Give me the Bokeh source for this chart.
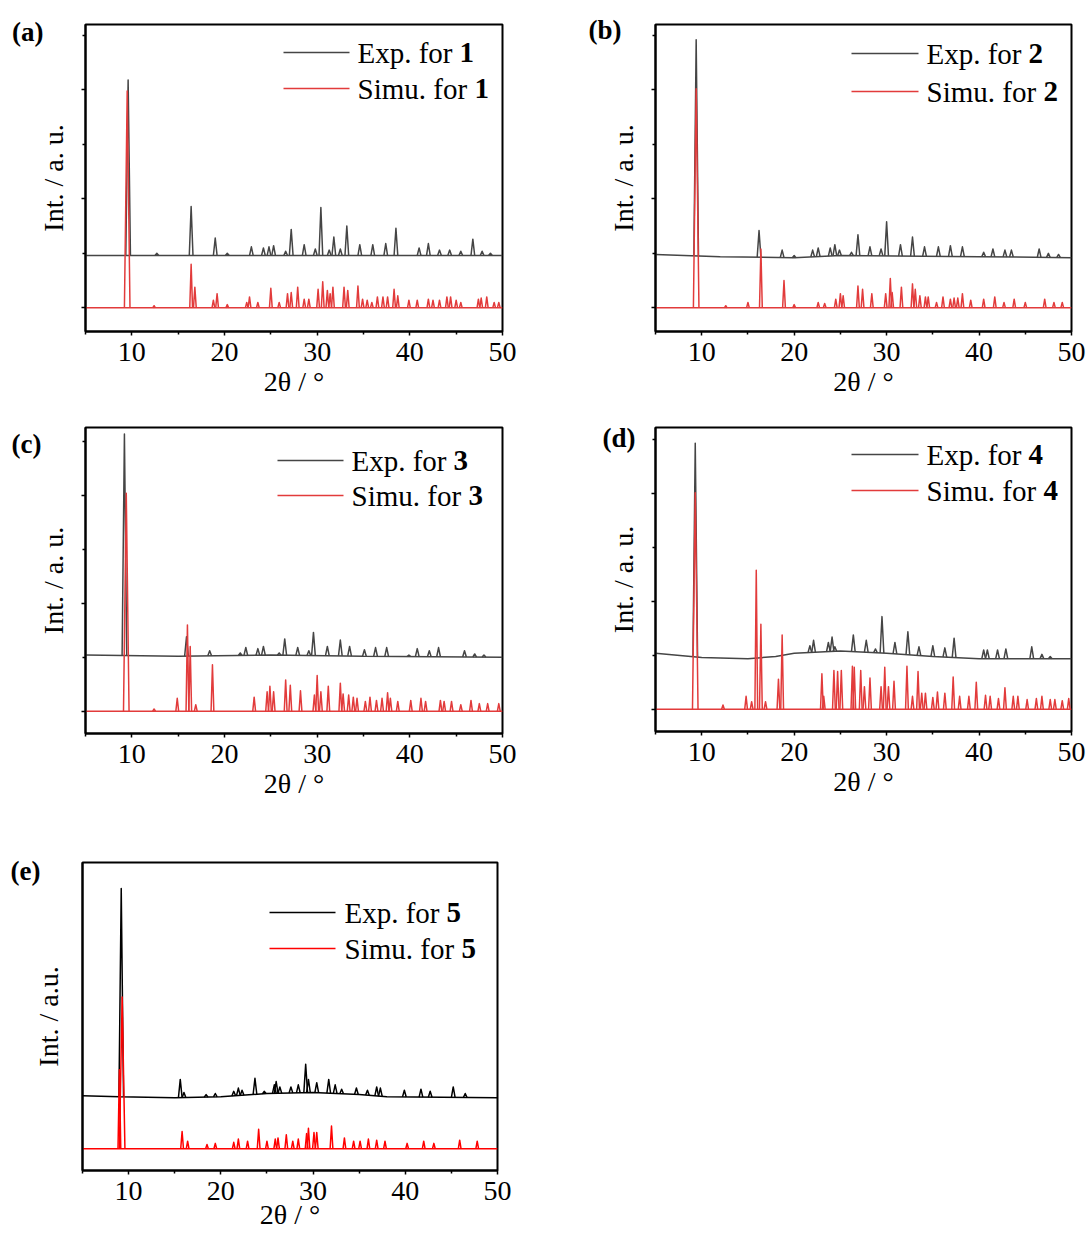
import numpy as np
from bokeh.plotting import figure
from bokeh.models import Range1d, FixedTicker, Label, LinearAxis
from bokeh.layouts import column, row
from bokeh.embed import file_html
from bokeh.resources import INLINE

# ---------------- data ----------------
X_TICKS = [10, 20, 30, 40, 50]
X_MINOR = [5, 15, 25, 35, 45]
Y_TICKS = [0, 1, 2]
Y_MINOR = [0.5, 1.5, 2.5]

# panel (a)
a_exp_pos = [9.6, 12.7, 16.4, 19.0, 20.3, 22.9, 24.2, 24.8, 25.3, 26.6, 27.2, 28.6, 29.8, 30.4, 31.3,
             31.8, 32.5, 33.2, 34.6, 36.0, 37.4, 38.5, 41.0, 42.0, 43.2, 44.3, 45.5, 46.8, 47.8, 48.7]
a_exp_top = [2.09, 0.50, 0.93, 0.64, 0.50, 0.56, 0.55, 0.56, 0.57, 0.52, 0.72, 0.58, 0.54, 0.92, 0.53,
             0.65, 0.54, 0.75, 0.58, 0.58, 0.59, 0.73, 0.55, 0.59, 0.53, 0.53, 0.52, 0.63, 0.52, 0.50]
a_exp_base_x = [5, 50]
a_exp_base_y = [0.48, 0.48]
a_sim_pos = [9.5, 12.4, 16.4, 16.8, 18.8, 19.2, 20.3, 22.4, 22.7, 23.6, 25.0, 25.9, 26.8, 27.2, 27.9,
             28.6, 29.1, 30.1, 30.6, 31.1, 31.4, 31.7, 32.9, 33.3, 34.4, 34.9, 35.4, 35.9, 36.5, 37.1,
             37.6, 38.3, 38.7, 39.9, 40.8, 42.0, 42.5, 43.2, 44.0, 44.4, 45.0, 45.5, 47.4, 47.7, 48.3,
             49.1, 49.6]
a_sim_top = [1.99, 0.02, 0.40, 0.19, 0.07, 0.13, 0.03, 0.05, 0.10, 0.05, 0.18, 0.05, 0.13, 0.14, 0.19,
             0.08, 0.08, 0.17, 0.24, 0.16, 0.13, 0.19, 0.19, 0.16, 0.20, 0.08, 0.07, 0.05, 0.10, 0.10,
             0.10, 0.17, 0.11, 0.07, 0.07, 0.08, 0.07, 0.07, 0.10, 0.10, 0.07, 0.05, 0.08, 0.09, 0.10,
             0.05, 0.05]

# panel (b)
b_exp_pos = [9.4, 16.2, 18.7, 20.0, 22.0, 22.6, 23.9, 24.4, 24.9, 26.2, 26.9, 28.2, 29.4, 30.0, 31.5,
             32.8, 34.1, 35.6, 36.9, 38.2, 40.5, 41.5, 42.8, 43.5, 46.5, 47.5, 48.6]
b_exp_top = [2.46, 0.71, 0.53, 0.48, 0.53, 0.55, 0.55, 0.58, 0.53, 0.51, 0.67, 0.56, 0.54, 0.79, 0.58,
             0.65, 0.56, 0.56, 0.57, 0.56, 0.51, 0.54, 0.53, 0.53, 0.54, 0.50, 0.49]
b_exp_base_x = [5, 12, 20, 25, 40, 50]
b_exp_base_y = [0.49, 0.47, 0.46, 0.48, 0.47, 0.46]
b_sim_pos = [9.4, 12.6, 15.0, 16.4, 18.9, 20.0, 22.6, 23.3, 24.5, 25.0, 25.3, 26.9, 27.4, 28.4, 29.9,
             30.4, 30.6, 31.6, 32.8, 33.1, 33.6, 34.2, 34.5, 35.4, 36.1, 36.9, 37.3, 37.7, 38.2, 39.1,
             40.5, 41.7, 42.7, 43.8, 45.0, 47.1, 48.1, 49.0]
b_sim_top = [2.01, 0.02, 0.05, 0.54, 0.25, 0.03, 0.05, 0.04, 0.08, 0.13, 0.11, 0.20, 0.17, 0.13, 0.13,
             0.27, 0.14, 0.19, 0.22, 0.17, 0.11, 0.10, 0.10, 0.05, 0.10, 0.08, 0.09, 0.09, 0.13, 0.07,
             0.08, 0.10, 0.05, 0.08, 0.05, 0.08, 0.05, 0.05]

# panel (c)
c_exp_pos = [9.2, 15.9, 18.4, 21.7, 22.3, 23.6, 24.2, 25.9, 26.5, 27.9, 29.1, 29.6, 31.1, 32.5, 33.5,
             35.1, 36.3, 37.5, 39.9, 40.8, 42.1, 43.1, 45.9, 47.0, 48.0]
c_exp_top = [2.57, 0.69, 0.56, 0.54, 0.59, 0.58, 0.60, 0.54, 0.67, 0.59, 0.56, 0.73, 0.60, 0.66, 0.60,
             0.57, 0.59, 0.59, 0.52, 0.58, 0.56, 0.59, 0.56, 0.53, 0.52]
c_exp_base_x = [5, 15, 25, 35, 50]
c_exp_base_y = [0.52, 0.51, 0.52, 0.51, 0.50]
c_sim_pos = [9.4, 12.4, 14.9, 16.0, 16.3, 16.9, 18.7, 23.2, 24.6, 24.9, 25.3, 26.6, 27.1, 28.2, 29.7,
             30.0, 30.4, 31.2, 32.5, 32.8, 33.4, 33.9, 34.3, 35.2, 35.7, 36.4, 37.0, 37.6, 37.9, 38.7,
             40.1, 41.2, 41.7, 43.3, 43.7, 44.5, 45.5, 46.6, 47.5, 48.4, 49.6]
c_sim_top = [2.02, 0.02, 0.12, 0.80, 0.60, 0.06, 0.43, 0.13, 0.18, 0.23, 0.18, 0.29, 0.24, 0.19, 0.15,
             0.33, 0.18, 0.23, 0.26, 0.16, 0.15, 0.13, 0.12, 0.09, 0.13, 0.10, 0.12, 0.17, 0.12, 0.09,
             0.10, 0.12, 0.09, 0.10, 0.09, 0.09, 0.06, 0.10, 0.07, 0.07, 0.07]

# panel (d)
d_exp_pos = [9.3, 21.7, 22.1, 23.7, 24.1, 24.4, 26.4, 27.8, 28.8, 29.5, 30.9, 32.3, 33.5, 35.0, 36.3,
             37.3, 40.5, 40.9, 42.0, 42.9, 45.7, 46.8, 47.7]
d_exp_top = [2.47, 0.59, 0.64, 0.62, 0.67, 0.58, 0.69, 0.64, 0.56, 0.86, 0.62, 0.72, 0.58, 0.59, 0.57,
             0.66, 0.55, 0.55, 0.55, 0.56, 0.58, 0.51, 0.49]
d_exp_base_x = [5, 10, 15, 18, 20, 25, 30, 35, 40, 50]
d_exp_base_y = [0.52, 0.48, 0.47, 0.49, 0.52, 0.54, 0.52, 0.49, 0.47, 0.47]
d_sim_pos = [9.3, 12.3, 14.8, 15.4, 15.9, 16.4, 16.9, 18.3, 18.7, 23.0, 23.2, 24.3, 24.7, 25.1, 26.3,
             26.5, 27.2, 27.6, 28.2, 29.4, 29.8, 30.2, 30.8, 32.2, 32.8, 33.4, 33.8, 34.2, 35.0, 35.5,
             36.3, 37.2, 37.9, 38.9, 39.7, 40.7, 41.2, 42.1, 42.8, 43.7, 44.2, 45.2, 46.2, 46.8, 47.7,
             48.2, 49.0, 49.7]
d_sim_top = [2.01, 0.04, 0.12, 0.07, 1.29, 0.79, 0.07, 0.28, 0.69, 0.33, 0.12, 0.36, 0.35, 0.36, 0.40,
             0.39, 0.36, 0.21, 0.29, 0.21, 0.39, 0.21, 0.26, 0.40, 0.12, 0.35, 0.15, 0.15, 0.11, 0.16,
             0.15, 0.30, 0.12, 0.12, 0.25, 0.13, 0.12, 0.10, 0.20, 0.12, 0.12, 0.09, 0.10, 0.12, 0.09,
             0.09, 0.08, 0.10]

# panel (e)
e_exp_pos = [9.2, 15.6, 16.0, 18.4, 19.4, 21.4, 21.9, 22.3, 23.7, 24.7, 25.8, 26.0, 26.4, 27.6, 28.4,
             29.2, 29.5, 30.4, 31.7, 32.4, 33.1, 34.7, 35.9, 36.9, 37.3, 39.9, 41.7, 42.7, 45.2, 46.5]
e_exp_top = [2.40, 0.64, 0.52, 0.50, 0.51, 0.53, 0.56, 0.54, 0.65, 0.53, 0.59, 0.62, 0.57, 0.57, 0.59,
             0.78, 0.64, 0.61, 0.64, 0.59, 0.55, 0.56, 0.54, 0.57, 0.56, 0.54, 0.55, 0.53, 0.57, 0.51]
e_exp_base_x = [5, 9, 15, 20, 25, 30, 35, 38, 50]
e_exp_base_y = [0.49, 0.48, 0.47, 0.48, 0.51, 0.52, 0.50, 0.48, 0.47]
e_sim_pos = [9.0, 9.3, 15.8, 16.4, 18.5, 19.4, 21.4, 21.9, 22.9, 24.1, 25.0, 25.9, 26.2, 27.1, 27.8,
             28.4, 29.3, 29.5, 30.1, 30.4, 32.0, 33.4, 34.4, 35.1, 36.0, 36.9, 37.8, 40.2, 42.0, 43.1,
             45.9, 47.8]
e_sim_top = [0.73, 1.40, 0.16, 0.07, 0.04, 0.05, 0.06, 0.09, 0.07, 0.18, 0.07, 0.09, 0.10, 0.13, 0.07,
             0.09, 0.14, 0.19, 0.15, 0.15, 0.21, 0.10, 0.07, 0.07, 0.09, 0.08, 0.07, 0.05, 0.07, 0.05,
             0.08, 0.07]

SIM_BASE_X = [5, 50]
SIM_BASE_Y = [0.0, 0.0]

# ---------------- styling / layout ----------------
FONT = "Liberation Serif"
GRAY = "#454545"
RED = "#e23b3b"

panels = [
    dict(frame=(85, 502, 24, 331), yr=(-0.217, 2.60), borders=(85, 20, 24, 79),
         letter="(a)", letter_y=31, letter_off=-9, leg=(283, 349, 52, 88, 357), num="1",
         exp=(a_exp_pos, a_exp_top, a_exp_base_x, a_exp_base_y),
         sim=(a_sim_pos, a_sim_top), colors=(GRAY, RED), yticks=True,
         ylabel="Int. / a. u.", xstand=(7, 2)),
    dict(frame=(655, 1071, 24, 331), yr=(-0.217, 2.60), borders=(133, 20, 24, 79),
         letter="(b)", letter_y=29, letter_off=-17, leg=(851, 918, 53, 91, 926), num="2",
         exp=(b_exp_pos, b_exp_top, b_exp_base_x, b_exp_base_y),
         sim=(b_sim_pos, b_sim_top), colors=(GRAY, RED), yticks=True,
         ylabel="Int. / a. u.", xstand=(7, 2)),
    dict(frame=(85, 502, 425, 731), yr=(-0.207, 2.63), borders=(85, 20, 15, 119),
         letter="(c)", letter_y=441, letter_off=-7, leg=(277, 343, 458, 493, 351), num="3",
         exp=(c_exp_pos, c_exp_top, c_exp_base_x, c_exp_base_y),
         sim=(c_sim_pos, c_sim_top), colors=(GRAY, RED), yticks=True,
         ylabel="Int. / a. u.", xstand=(7, 2)),
    dict(frame=(655, 1071, 427, 731), yr=(-0.206, 2.615), borders=(133, 20, 17, 119),
         letter="(d)", letter_y=437, letter_off=-31, leg=(851, 918, 454, 490, 926), num="4",
         exp=(d_exp_pos, d_exp_top, d_exp_base_x, d_exp_base_y),
         sim=(d_sim_pos, d_sim_top), colors=(GRAY, RED), yticks=True,
         ylabel="Int. / a. u.", xstand=(7, 2)),
    dict(frame=(82, 497, 862, 1170), yr=(-0.20, 2.64), borders=(82, 20, 12, 63),
         letter="(e)", letter_y=870, letter_off=-11, leg=(269, 335, 912, 948, 344), num="5",
         exp=(e_exp_pos, e_exp_top, e_exp_base_x, e_exp_base_y),
         sim=(e_sim_pos, e_sim_top), colors=("#000000", "#ff0000"), yticks=False,
         ylabel="Int. / a.u.", xstand=(7, -4)),
]


def to_data(cfg, px, py):
    fl, fr, ft, fb = cfg["frame"]
    y0, y1 = cfg["yr"]
    return 5 + (px - fl) / (fr - fl) * 45.0, y1 - (py - ft) / (fb - ft) * (y1 - y0)


def peak_lines(pos, top, bx, by, w, w_main):
    imax = int(np.argmax(top))
    xs, ys = [], []
    for i, (p, t) in enumerate(zip(pos, top)):
        hw = w_main if i == imax else w
        xl, xr = p - hw, p + hw
        xs.append([xl, p, xr])
        ys.append([float(np.interp(xl, bx, by)), t, float(np.interp(xr, bx, by))])
    return xs, ys


def add_label(p, cfg, px, py, text, size="28px", bold=False):
    x, y = to_data(cfg, px, py)
    p.add_layout(Label(x=x, y=y, text=text, text_font=FONT, text_font_size=size,
                       text_font_style="bold" if bold else "normal", text_color="black",
                       text_align="left", text_baseline="alphabetic"))


def make_panel(cfg):
    fl, fr, ft, fb = cfg["frame"]
    y0, y1 = cfg["yr"]
    bl, br, bt, bb = cfg["borders"]
    p = figure(frame_width=fr - fl, frame_height=fb - ft,
               min_border_left=bl, min_border_right=br, min_border_top=bt, min_border_bottom=bb,
               x_range=Range1d(5, 50), y_range=Range1d(y0, y1),
               output_backend="svg", toolbar_location=None,
               background_fill_color="white", border_fill_color="white")
    p.xgrid.visible = False
    p.ygrid.visible = False
    p.outline_line_color = "black"
    p.outline_line_width = 2
    p.outline_line_alpha = 1.0

    s_lab, s_title = cfg["xstand"]
    xa = p.xaxis[0]
    xa.ticker = FixedTicker(ticks=X_TICKS, minor_ticks=X_MINOR)
    xa.axis_line_width = 2
    xa.major_tick_out = 4
    xa.major_tick_in = 0
    xa.minor_tick_out = 3
    xa.minor_tick_in = 0
    xa.major_tick_line_width = 1.5
    xa.minor_tick_line_width = 1.5
    xa.major_label_text_font = FONT
    xa.major_label_text_font_size = "28px"
    xa.major_label_text_color = "black"
    xa.major_label_standoff = s_lab
    xa.axis_label = "2\u03b8 / \u00b0"
    xa.axis_label_text_font = FONT
    xa.axis_label_text_font_size = "28px"
    xa.axis_label_text_font_style = "normal"
    xa.axis_label_text_color = "black"
    xa.axis_label_standoff = s_title

    ya = p.yaxis[0]
    ya.ticker = FixedTicker(ticks=Y_TICKS, minor_ticks=Y_MINOR)
    ya.axis_line_width = 2
    ya.major_label_overrides = {0: "", 1: "", 2: ""}
    ya.major_label_standoff = 0
    ya.major_tick_in = 0
    ya.minor_tick_in = 0
    ya.major_tick_line_width = 1.5
    ya.minor_tick_line_width = 1.5
    ya.axis_label = cfg["ylabel"]
    ya.axis_label_text_font = FONT
    ya.axis_label_text_font_size = "28px"
    ya.axis_label_text_font_style = "normal"
    ya.axis_label_text_color = "black"
    if cfg["yticks"]:
        ya.major_tick_out = 4
        ya.minor_tick_out = 3
        ya.axis_label_standoff = 13
    else:
        ya.major_tick_out = 0
        ya.minor_tick_out = 0
        ya.axis_label_standoff = 19

    # panel letter as a label-only axis placed left of the y axis
    _, ly_val = to_data(cfg, fl, cfg["letter_y"])
    la = LinearAxis(ticker=FixedTicker(ticks=[ly_val], minor_ticks=[]),
                    major_label_overrides={ly_val: cfg["letter"]},
                    major_label_text_font=FONT, major_label_text_font_size="27px",
                    major_label_text_font_style="bold", major_label_text_color="black",
                    major_label_standoff=cfg["letter_off"],
                    axis_line_color=None, major_tick_line_color=None,
                    minor_tick_line_color=None, major_tick_out=0, major_tick_in=0)
    p.add_layout(la, "left")

    exp_color, sim_color = cfg["colors"]
    # experimental pattern
    epos, etop, ebx, eby = cfg["exp"]
    p.line(ebx, eby, line_color=exp_color, line_width=1.5)
    xs, ys = peak_lines(epos, etop, ebx, eby, 0.2, 0.25)
    p.multi_line(xs, ys, line_color=exp_color, line_width=1.5, line_join="round")
    # simulated pattern
    spos, stop = cfg["sim"]
    p.line(SIM_BASE_X, SIM_BASE_Y, line_color=sim_color, line_width=1.5)
    xs, ys = peak_lines(spos, stop, SIM_BASE_X, SIM_BASE_Y, 0.15, 0.3)
    p.multi_line(xs, ys, line_color=sim_color, line_width=1.5, line_join="round")

    # legend
    lx0, lx1, ly_exp, ly_sim, tx = cfg["leg"]
    for ly, txt, off, col in ((ly_exp, "Exp. for", 102, exp_color),
                              (ly_sim, "Simu. for", 117, sim_color)):
        xa0, yv = to_data(cfg, lx0, ly)
        xa1, _ = to_data(cfg, lx1, ly)
        p.line([xa0, xa1], [yv, yv], line_color=col, line_width=1.5)
        add_label(p, cfg, tx, ly, txt, size="29px")
        add_label(p, cfg, tx + off, ly, cfg["num"], size="29px", bold=True)
    return p


figs = [make_panel(c) for c in panels]
layout = column(row(figs[0], figs[1]), row(figs[2], figs[3]), row(figs[4]))

open("out.html", "w").write(file_html(layout, INLINE))
